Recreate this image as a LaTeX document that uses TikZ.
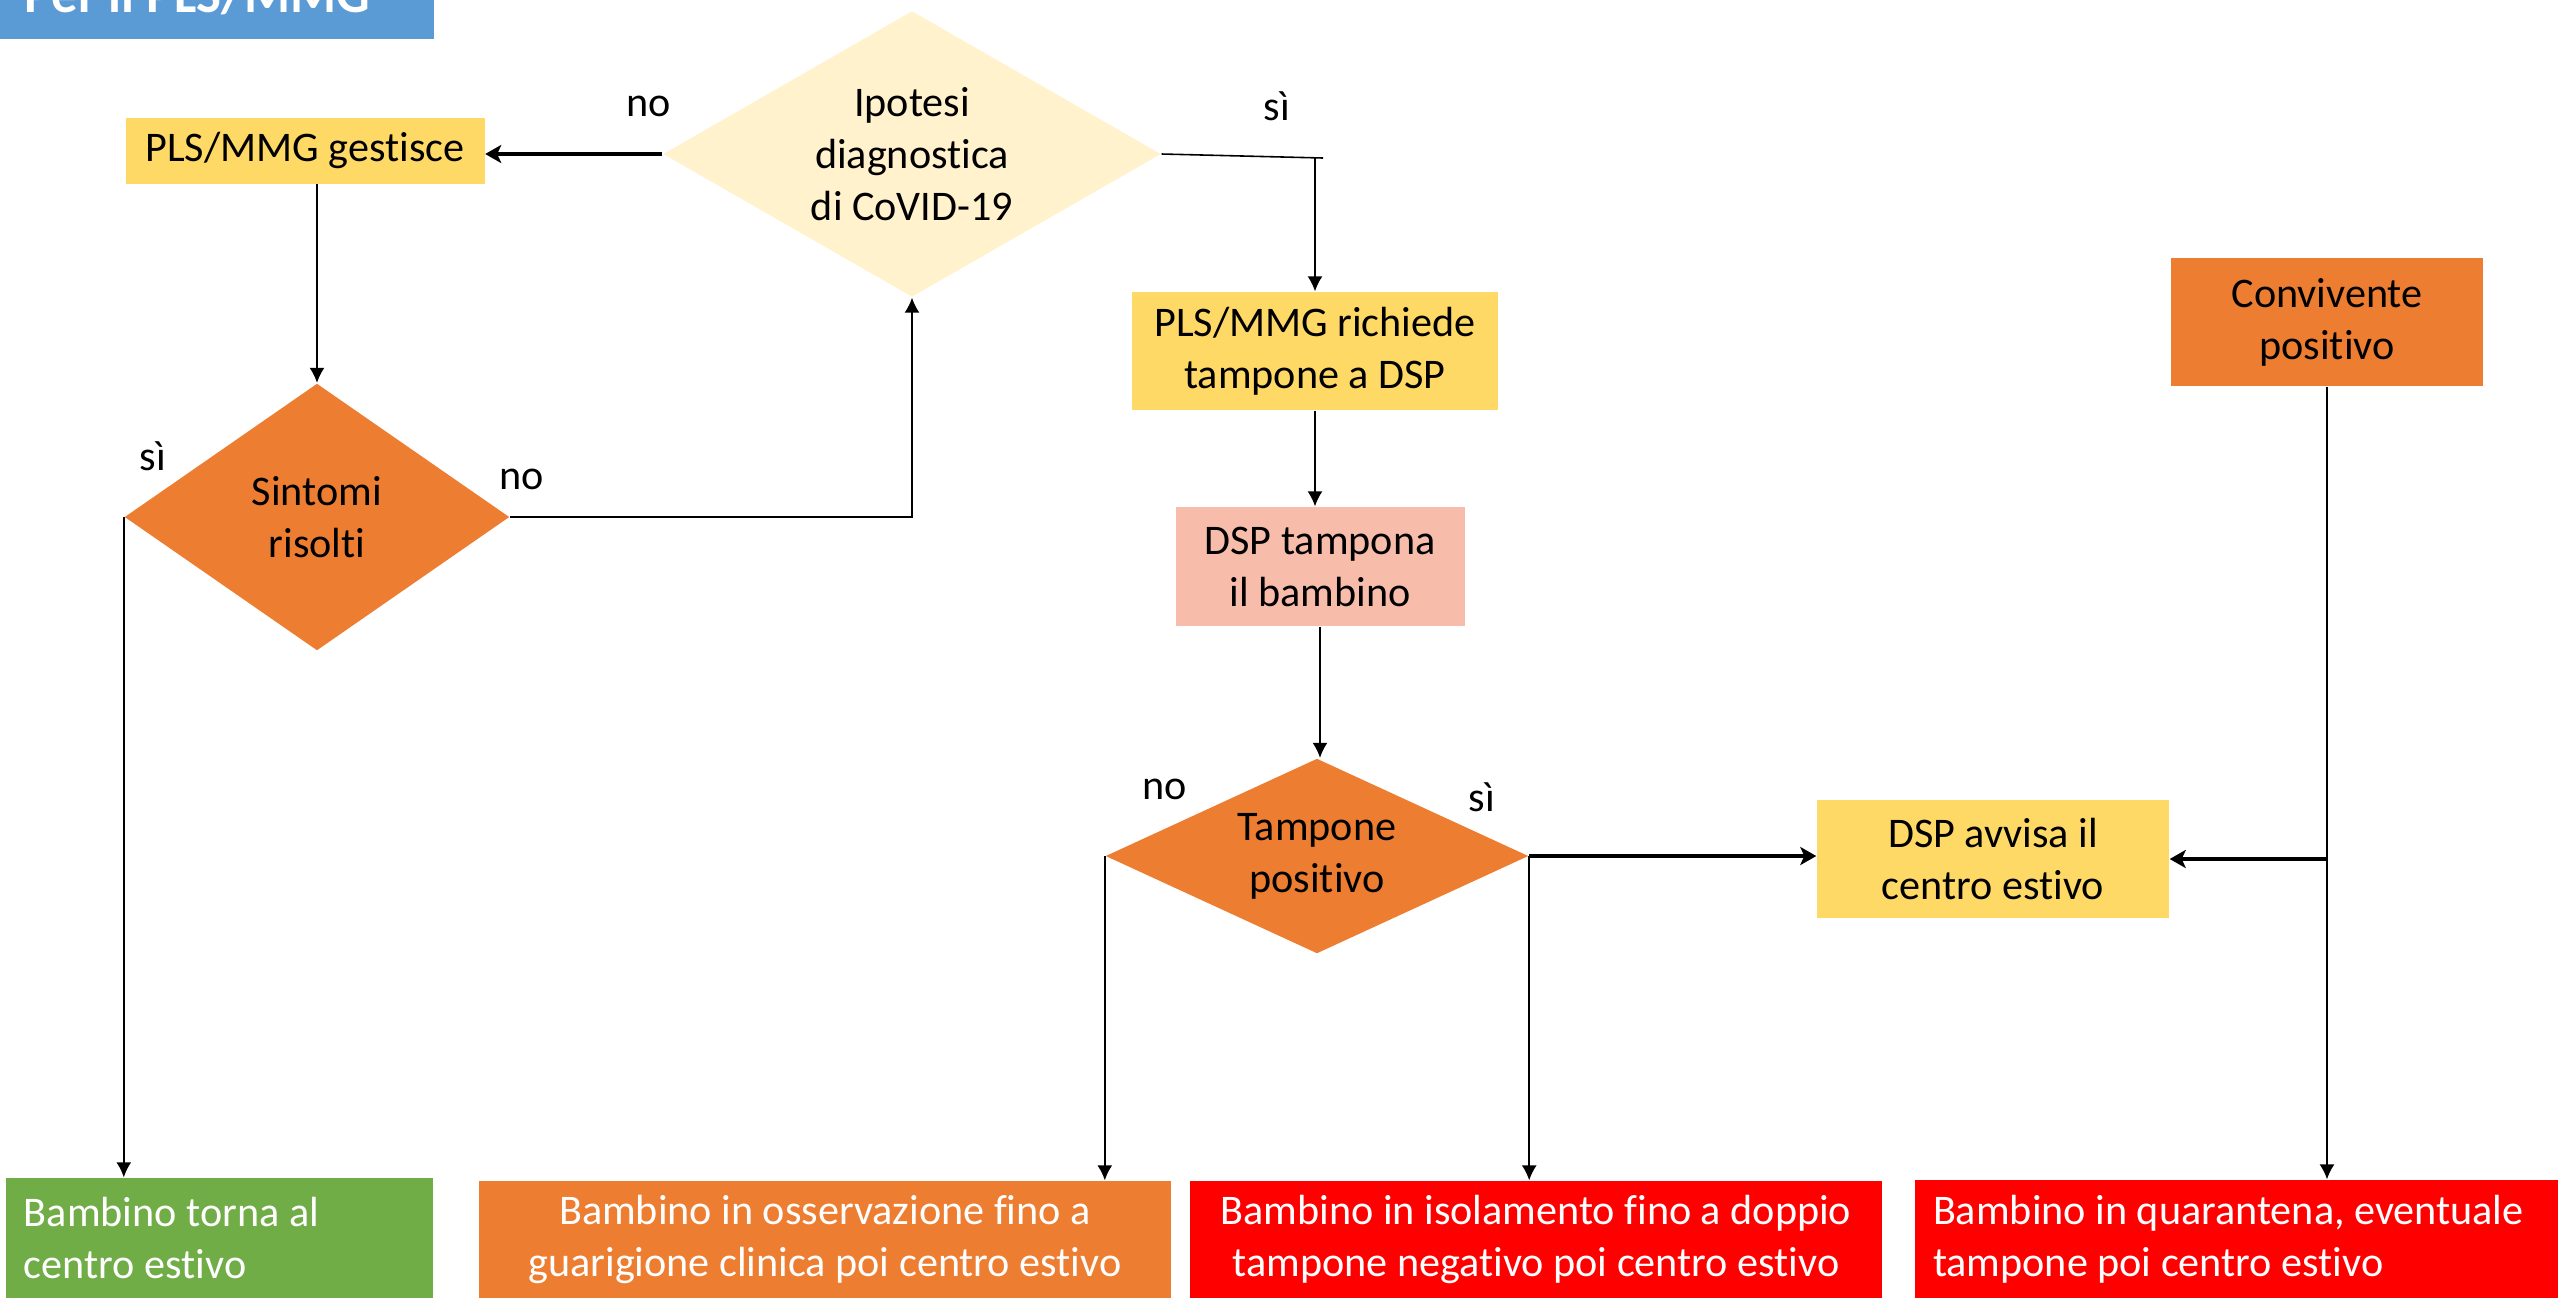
\documentclass[tikz,border=0pt]{standalone}
\usepackage{fontspec}
\setmainfont{Carlito}[Ligatures=NoCommon]
\usetikzlibrary{shapes.geometric,arrows.meta}

\definecolor{titleblue}{HTML}{5B9BD5}
\definecolor{actyellow}{HTML}{FFD966}
\definecolor{paleyellow}{HTML}{FFF2CC}
\definecolor{decorange}{HTML}{ED7D31}
\definecolor{salmon}{HTML}{F8BDAA}
\definecolor{okgreen}{HTML}{70AD47}
\definecolor{alertred}{HTML}{FF0000}

\begin{document}
\begin{tikzpicture}[
  every node/.style={font=\fontsize{12}{14.8}\selectfont},
  actbox/.style={rectangle, inner sep=0pt, align=center},
  decbox/.style={diamond, inner sep=0pt, align=center},
  endbox/.style={rectangle, inner ysep=0pt, inner xsep=0.18cm, text=white},
  branchtext/.style={inner sep=0pt},
  link/.style={line width=0.45pt, -{Latex[length=0.15cm,width=0.15cm]}},
  thicklink/.style={line width=0.9pt, -{Stealth[length=0.16cm,width=0.18cm,inset=0.04cm]}}
]
\useasboundingbox (0,0) rectangle (25.6,-12.98);

% Title
\fill[titleblue] (0,0.6) rectangle (4.34,-0.385);
\node[anchor=base west, text=white, font=\fontsize{15}{18}\selectfont\bfseries] (title) at (0.12,-0.125) {Per il PLS/MMG};

% First decision
\node[decbox, fill=paleyellow, minimum width=4.98cm, minimum height=2.86cm, shape aspect=1.74] (ipotesi) at (9.12,-1.54) {Ipotesi\\diagnostica\\di CoVID-19};
\node[actbox, fill=actyellow, minimum width=3.59cm, minimum height=0.66cm] (gestisce) at (3.05,-1.505) {PLS/MMG gestisce};
\node[decbox, fill=decorange, minimum width=3.85cm, minimum height=2.67cm, shape aspect=1.44] (sintomi) at (3.17,-5.17) {Sintomi\\risolti};

% Swab branch
\node[actbox, fill=actyellow, minimum width=3.66cm, minimum height=1.18cm] (richiede) at (13.15,-3.51) {PLS/MMG richiede\\tampone a DSP};
\node[actbox, fill=salmon, minimum width=2.89cm, minimum height=1.19cm] (tampona) at (13.20,-5.665) {DSP tampona\\il bambino};
\node[decbox, fill=decorange, minimum width=4.23cm, minimum height=1.95cm, shape aspect=2.17] (tampone) at (13.17,-8.56) {Tampone\\positivo};
\node[actbox, fill=actyellow, minimum width=3.52cm, minimum height=1.18cm] (avvisa) at (19.93,-8.59) {DSP avvisa il\\centro estivo};
\node[actbox, fill=decorange, minimum width=3.12cm, minimum height=1.28cm] (convivente) at (23.27,-3.22) {Convivente\\positivo};

% Outcomes
\node[endbox, fill=okgreen, text width=3.91cm, minimum height=1.20cm, align=flush left] (torna) at (2.195,-12.38) {Bambino torna al\\centro estivo};
\node[endbox, fill=decorange, text width=6.56cm, minimum height=1.17cm, align=flush center] (osservazione) at (8.25,-12.395) {Bambino in osservazione fino a\\guarigione clinica poi centro estivo};
\node[endbox, fill=alertred, text width=6.56cm, minimum height=1.17cm, align=flush center] (isolamento) at (15.36,-12.395) {Bambino in isolamento fino a doppio\\tampone negativo poi centro estivo};
\node[endbox, fill=alertred, text width=6.07cm, minimum height=1.18cm, align=flush left] (quarantena) at (22.365,-12.39) {Bambino in quarantena, eventuale\\tampone poi centro estivo};

% Branch labels
\node[branchtext] (no1) at (6.49,-1.06) {no};
\node[branchtext] (si1) at (12.77,-1.06) {sì};
\node[branchtext] (si2) at (1.53,-4.56) {sì};
\node[branchtext] (no2) at (5.22,-4.79) {no};
\node[branchtext] (no3) at (11.65,-7.89) {no};
\node[branchtext] (si3) at (14.82,-7.97) {sì};

% Connectors
\coordinate (sicorner) at (13.23,-1.58);
\draw[thicklink] (ipotesi.west) -- (ipotesi.west -| gestisce.east);
\draw[link] (sintomi.north |- gestisce.south) -- (sintomi.north);
\draw[link] (sintomi.east) -| (ipotesi.south);
\draw[line width=0.45pt] (ipotesi.east) -- (sicorner);
\draw[link] (richiede.north |- sicorner) -- (richiede.north);
\draw[link] (richiede.south) -- (richiede.south |- tampona.north);
\draw[link] (tampona.south) -- (tampona.south |- tampone.north);
\draw[thicklink] (tampone.east) -- (tampone.east -| avvisa.west);
\draw[link] (tampone.west) -- (tampone.west |- osservazione.north);
\draw[link] (tampone.east) -- (tampone.east |- isolamento.north);
\draw[link] (convivente.south) -- (convivente.south |- quarantena.north);
\draw[thicklink] (convivente.south |- avvisa.east) -- (avvisa.east);
\draw[link] (sintomi.west) -- (sintomi.west |- torna.north);
\end{tikzpicture}
\end{document}
